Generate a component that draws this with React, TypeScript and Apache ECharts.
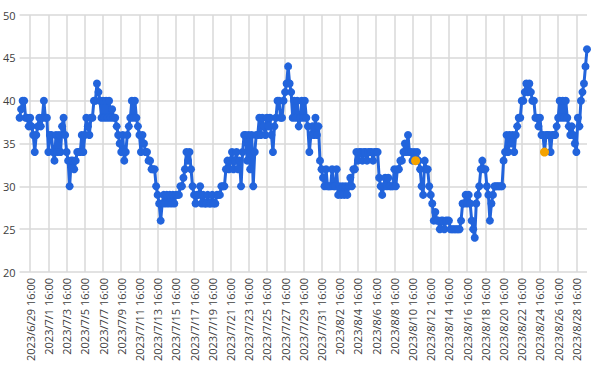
import React, { useEffect, useRef } from "react";
import * as echarts from "echarts";

// 4-hourly readings starting 2023/6/28 12:00
const startUTC = Date.UTC(2023, 5, 28, 12, 0);
const stepHours = 4;

const values: number[] = [
  // 0-59
  38, 39, 40, 40, 38, 38, 37, 38, 37, 36, 34, 36, 37, 38, 37, 38, 40, 38, 38, 34,
  36, 36, 34, 33, 36, 34, 36, 34, 37, 38, 36, 34, 33, 30, 33, 33, 32, 33, 34, 34,
  34, 36, 34, 36, 38, 37, 36, 38, 38, 40, 40, 42, 41, 40, 38, 40, 38, 40, 38, 40,
  // 60-119
  38, 39, 38, 38, 37, 36, 35, 34, 36, 33, 34, 36, 37, 38, 40, 38, 40, 38, 37, 36,
  34, 36, 35, 34, 34, 33, 33, 32, 32, 32, 30, 29, 28, 26, 28, 29, 28, 29, 28, 29,
  28, 29, 28, 29, 29, 29, 30, 30, 31, 32, 34, 33, 34, 32, 30, 29, 28, 29, 29, 30,
  // 120-179
  28, 29, 28, 28, 29, 28, 28, 29, 28, 28, 29, 29, 29, 30, 30, 30, 32, 33, 32, 33,
  34, 32, 33, 34, 32, 33, 30, 34, 36, 36, 33, 36, 32, 36, 30, 34, 36, 36, 38, 36,
  38, 37, 36, 38, 37, 38, 36, 34, 37, 38, 40, 40, 38, 38, 40, 41, 42, 44, 42, 41,
  // 180-239
  38, 40, 38, 40, 37, 38, 40, 38, 40, 38, 37, 34, 36, 37, 36, 38, 36, 37, 33, 32,
  31, 30, 32, 30, 30, 30, 32, 30, 30, 32, 29, 30, 29, 30, 29, 30, 29, 30, 31, 30,
  32, 32, 34, 33, 34, 34, 33, 34, 34, 33, 34, 34, 34, 33, 34, 34, 34, 31, 30, 29,
  // 240-299
  30, 31, 30, 31, 30, 30, 30, 32, 30, 32, 32, 33, 33, 34, 35, 34, 36, 34, 34, 33,
  34, 33, 34, 33, 32, 30, 29, 33, 32, 32, 30, 29, 28, 26, 27, 26, 26, 25, 26, 26,
  25, 26, 26, 26, 25, 25, 25, 25, 25, 25, 25, 26, 28, 28, 29, 28, 29, 28, 26, 25,
  // 300-374
  24, 28, 29, 30, 32, 33, 32, 32, 30, 29, 26, 28, 29, 30, 30, 30, 30, 30, 30, 33,
  34, 36, 34, 36, 35, 36, 34, 36, 37, 38, 38, 40, 40, 41, 42, 41, 42, 41, 40, 40,
  38, 38, 37, 38, 36, 36, 34, 36, 36, 36, 34, 36, 36, 36, 37, 38, 40, 38, 40, 38,
  40, 38, 37, 36, 37, 36, 35, 34, 38, 37, 40, 41, 42, 44, 46,
];

// indexes of highlighted (orange) readings
const highlighted: number[] = [261, 346];

const yTicks = { min: 20, max: 50, interval: 5 };

const pad = (n: number) => (n < 10 ? "0" + n : String(n));
const categories: string[] = values.map((_, i) => {
  const d = new Date(startUTC + i * stepHours * 3600 * 1000);
  return `${d.getUTCFullYear()}/${d.getUTCMonth() + 1}/${d.getUTCDate()} ${pad(
    d.getUTCHours()
  )}:${pad(d.getUTCMinutes())}`;
});

const labelEvery = 12;
const labelOffset = 7;
const showIdx = (i: number) => i >= labelOffset && (i - labelOffset) % labelEvery === 0;

export default function App() {
  const ref = useRef<HTMLDivElement>(null);
  useEffect(() => {
    if (!ref.current) return;
    const chart = echarts.init(ref.current, undefined, { renderer: "svg" });
    const font = "'Open Sans', 'Noto Sans', sans-serif";
    chart.setOption({
      animation: false,
      grid: { left: 18, right: 13, top: 15, bottom: 95, containLabel: false },
      xAxis: {
        type: "category",
        data: categories,
        boundaryGap: false,
        axisLine: { show: false },
        axisTick: { show: false },
        axisLabel: {
          interval: (i: number) => showIdx(i),
          rotate: 90,
          fontSize: 11,
          color: "#404040",
          fontFamily: font,
          margin: 6,
        },
        splitLine: {
          show: true,
          interval: (i: number) => showIdx(i),
          lineStyle: { color: "#d9d9d9", width: 1.5 },
        },
      },
      yAxis: {
        type: "value",
        min: yTicks.min,
        max: yTicks.max,
        interval: yTicks.interval,
        axisLine: { show: false },
        axisTick: { show: false },
        axisLabel: { fontSize: 11, color: "#404040", fontFamily: font, margin: 4 },
        splitLine: { lineStyle: { color: "#d9d9d9", width: 1.5 } },
      },
      series: [
        {
          type: "line",
          data: values,
          showAllSymbol: true,
          symbol: "circle",
          symbolSize: 8,
          lineStyle: { color: "#2264dc", width: 3 },
          itemStyle: { color: "#2264dc" },
          z: 2,
        },
        {
          type: "scatter",
          data: values.map((v, i) => (highlighted.includes(i) ? v : null)),
          symbol: "circle",
          symbolSize: 9,
          itemStyle: { color: "#f5a300", opacity: 1 },
          z: 3,
        },
      ],
    });
    return () => chart.dispose();
  }, []);
  return (
    <div
      ref={ref}
      style={{ position: "absolute", left: 0, top: 0, width: 600, height: 367 }}
    />
  );
}
